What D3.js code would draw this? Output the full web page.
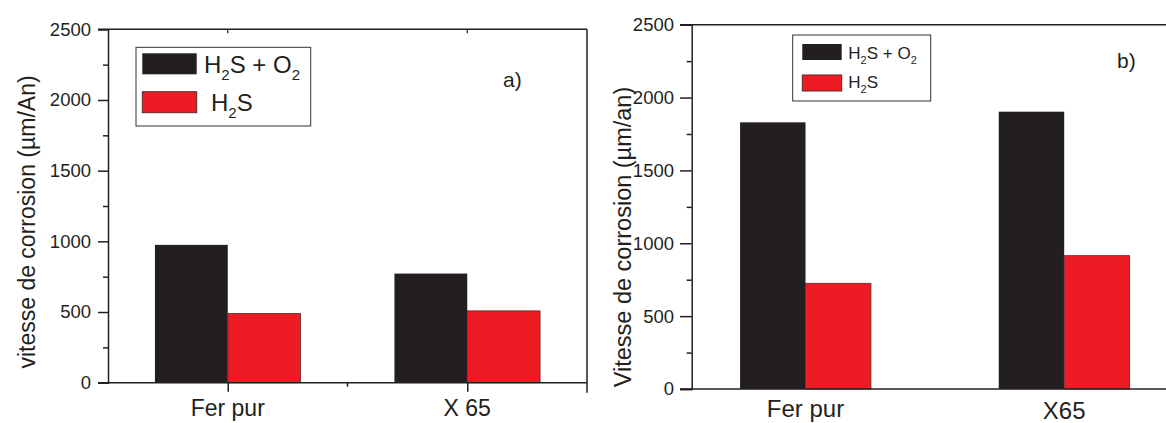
<!DOCTYPE html>
<html><head><meta charset="utf-8">
<script src="https://cdn.jsdelivr.net/npm/d3@7/dist/d3.min.js"></script>
<style>body{margin:0;background:#fff}svg{display:block;font-family:"Liberation Sans",Arial,sans-serif}</style>
</head><body><svg id="c" width="1166" height="423"></svg>
<script>
const categoriesA = ["Fer pur", "X 65"];
const h2sO2A = [975, 772];
const h2sA = [490, 508];
const categoriesB = ["Fer pur", "X65"];
const h2sO2B = [1830, 1903];
const h2sB = [725, 915];
const majorTicks = [0, 500, 1000, 1500, 2000, 2500];
const minorTicks = [250, 750, 1250, 1750, 2250];
const seriesNames = ["H2S + O2", "H2S"];
const panelTags = ["a)", "b)"];
const titleA = "vitesse de corrosion (µm/An)";
const titleB = "Vitesse de corrosion (µm/an)";

const BLACK = "#231f20", RED = "#ed1c24";
const svg = d3.select("#c");

function panel(o) {
  const g = svg.append("g");
  const y = d3.scaleLinear().domain([0, 2500]).range([o.bottom, o.top]);
  const x = d3.scalePoint().domain(o.cats).range([o.left, o.right]).padding(o.pad);
  const bw = x.step() * o.bwFrac;
  g.selectAll(".b1").data(o.cats).enter().append("rect")
    .attr("x", d => x(d) - bw).attr("width", bw)
    .attr("y", (d, i) => y(o.s1[i])).attr("height", (d, i) => y(0) - y(o.s1[i]))
    .attr("fill", BLACK);
  g.selectAll(".b2").data(o.cats).enter().append("rect")
    .attr("x", d => x(d)).attr("width", bw)
    .attr("y", (d, i) => y(o.s2[i])).attr("height", (d, i) => y(0) - y(o.s2[i]))
    .attr("fill", RED).attr("stroke", "#5a2a2a").attr("stroke-width", 0.8);
  const lc = BLACK;
  g.append("line").attr("x1", o.left - o.tick).attr("x2", o.right).attr("y1", o.top).attr("y2", o.top).attr("stroke", lc).attr("stroke-width", 1.5);
  g.append("line").attr("x1", o.left - o.tick).attr("x2", o.right).attr("y1", o.bottom).attr("y2", o.bottom).attr("stroke", lc).attr("stroke-width", 1.5);
  if (o.rightFrame) g.append("line").attr("x1", o.right).attr("x2", o.right).attr("y1", o.top).attr("y2", o.bottom + 10).attr("stroke", lc).attr("stroke-width", 1.5);
  const ya = g.append("g").attr("transform", `translate(${o.left},0)`)
    .call(d3.axisLeft(y).tickValues(majorTicks).tickSize(o.tick).tickPadding(o.tpad).tickFormat(d3.format("d")));
  ya.attr("font-family", null).attr("font-size", null);
  ya.selectAll("text").attr("font-size", 18.5).attr("fill", BLACK);
  ya.selectAll("line").attr("stroke", lc).attr("stroke-width", 1.5);
  ya.select(".domain").attr("stroke", lc).attr("stroke-width", 1.5);
  const ym = g.append("g").attr("transform", `translate(${o.left},0)`)
    .call(d3.axisLeft(y).tickValues(minorTicks).tickSize(5).tickFormat(""));
  ym.select(".domain").remove();
  ym.selectAll("line").attr("stroke", lc).attr("stroke-width", 1.5);
  if (o.xTicks) {
    const xa = g.append("g").attr("transform", `translate(0,${o.bottom})`)
      .call(d3.axisBottom(x).tickSize(9).tickFormat(""));
    xa.select(".domain").remove();
    xa.selectAll("line").attr("stroke", lc).attr("stroke-width", 1.5);
    g.append("line").attr("x1", (x(o.cats[0]) + x(o.cats[1])) / 2).attr("x2", (x(o.cats[0]) + x(o.cats[1])) / 2)
      .attr("y1", o.bottom).attr("y2", o.bottom + 4).attr("stroke", lc).attr("stroke-width", 1.5);
    o.cats.forEach(c => g.append("line").attr("x1", x(c)).attr("x2", x(c)).attr("y1", o.top).attr("y2", o.top + 4).attr("stroke", lc).attr("stroke-width", 1.2));
  }
  o.cats.forEach((c, i) => g.append("text").attr("x", x(c)).attr("y", o.labelY[i])
    .attr("text-anchor", "middle").attr("font-size", o.labelSize).attr("fill", BLACK).text(c));
  g.append("text").attr("transform", `translate(${o.titleX},${o.titleY}) rotate(-90)`)
    .attr("text-anchor", "middle").attr("font-size", o.titleSize).attr("fill", BLACK).text(o.title);
  g.append("text").attr("x", o.tagX).attr("y", o.tagY).attr("font-size", 21).attr("fill", BLACK).text(o.tag);
  const L = o.leg;
  g.append("rect").attr("x", L.x).attr("y", L.y).attr("width", L.w).attr("height", L.h)
    .attr("fill", "#fff").attr("stroke", "#333").attr("stroke-width", 1);
  [BLACK, RED].forEach((col, i) => {
    g.append("rect").attr("x", L.sx).attr("y", L.sy[i]).attr("width", L.sw).attr("height", L.sh)
      .attr("fill", col).attr("stroke", i ? "#5a2a2a" : "none").attr("stroke-width", 1);
  });
  const fs = L.fs, sub = Math.round(fs * 0.62);
  const t1 = g.append("text").attr("x", L.tx[0]).attr("y", L.ty[0]).attr("font-size", fs).attr("fill", BLACK);
  t1.append("tspan").text("H");
  t1.append("tspan").attr("font-size", sub).attr("dy", fs * 0.3).text("2");
  t1.append("tspan").attr("dy", -fs * 0.3).text("S + O");
  t1.append("tspan").attr("font-size", sub).attr("dy", fs * 0.3).text("2");
  const t2 = g.append("text").attr("x", L.tx[1]).attr("y", L.ty[1]).attr("font-size", fs).attr("fill", BLACK);
  t2.append("tspan").text("H");
  t2.append("tspan").attr("font-size", sub).attr("dy", fs * 0.3).text("2");
  t2.append("tspan").attr("dy", -fs * 0.3).text("S");
}

panel({
  cats: categoriesA, s1: h2sO2A, s2: h2sA,
  left: 108, right: 587, top: 29.3, bottom: 382.7, pad: 0.5, bwFrac: 0.304,
  tick: 10, tpad: 7, rightFrame: true, xTicks: true,
  labelY: [416, 416], labelSize: 23,
  title: titleA, titleX: 35, titleY: 222, titleSize: 23,
  tag: panelTags[0], tagX: 503, tagY: 87,
  leg: { x: 136, y: 47.3, w: 174.7, h: 78.7, sx: 142.3, sw: 54.4, sh: 21, sy: [53.3, 91.7],
         tx: [204, 211], ty: [73, 111], fs: 24 }
});
panel({
  cats: categoriesB, s1: h2sO2B, s2: h2sB,
  left: 691.7, right: 1178, top: 24.7, bottom: 389, pad: 0.44, bwFrac: 0.253,
  tick: 11.7, tpad: 6, rightFrame: false, xTicks: false,
  labelY: [417, 419], labelSize: 24,
  title: titleB, titleX: 631, titleY: 237, titleSize: 23.5,
  tag: panelTags[1], tagX: 1117, tagY: 68,
  leg: { x: 792.7, y: 35, w: 138, h: 66, sx: 802.3, sw: 39.4, sh: 16, sy: [44, 75],
         tx: [848.3, 848.3], ty: [59, 88], fs: 17 }
});
</script></body></html>
